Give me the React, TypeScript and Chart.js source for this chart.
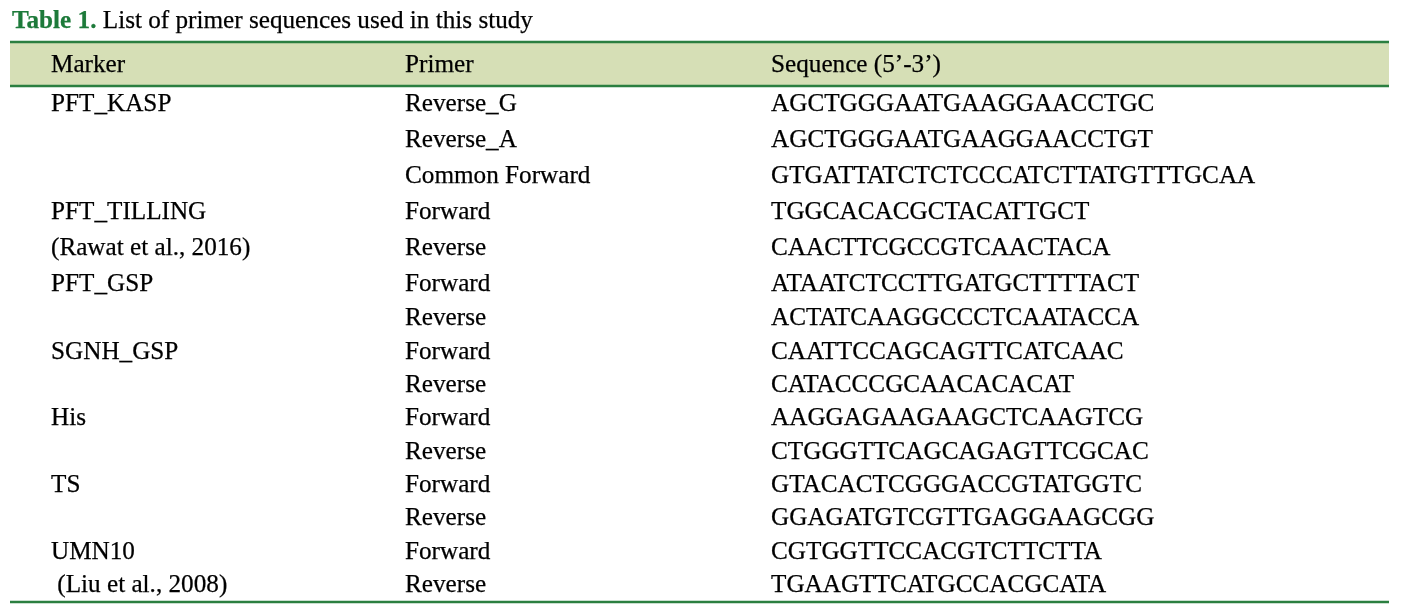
import React, { useEffect, useRef } from "react";
import { Chart, registerables } from "chart.js";

Chart.register(...registerables);

const TITLE_LABEL = "Table 1.";
const TITLE_TEXT = " List of primer sequences used in this study";
const HEADERS = ["Marker", "Primer", "Sequence (5’-3’)"];
const MARKERS = [
  "PFT_KASP", "", "", "PFT_TILLING", "(Rawat et al., 2016)", "PFT_GSP", "",
  "SGNH_GSP", "", "His", "", "TS", "", "UMN10", " (Liu et al., 2008)",
];
const PRIMERS = [
  "Reverse_G", "Reverse_A", "Common Forward", "Forward", "Reverse", "Forward", "Reverse",
  "Forward", "Reverse", "Forward", "Reverse", "Forward", "Reverse", "Forward", "Reverse",
];
const SEQUENCES = [
  "AGCTGGGAATGAAGGAACCTGC",
  "AGCTGGGAATGAAGGAACCTGT",
  "GTGATTATCTCTCCCATCTTATGTTTGCAA",
  "TGGCACACGCTACATTGCT",
  "CAACTTCGCCGTCAACTACA",
  "ATAATCTCCTTGATGCTTTTACT",
  "ACTATCAAGGCCCTCAATACCA",
  "CAATTCCAGCAGTTCATCAAC",
  "CATACCCGCAACACACAT",
  "AAGGAGAAGAAGCTCAAGTCG",
  "CTGGGTTCAGCAGAGTTCGCAC",
  "GTACACTCGGGACCGTATGGTC",
  "GGAGATGTCGTTGAGGAAGCGG",
  "CGTGGTTCCACGTCTTCTTA",
  "TGAAGTTCATGCCACGCATA",
];
const COLUMNS = [MARKERS, PRIMERS, SEQUENCES];
// rows 0-5 sit in taller rows than rows 6-14 in the original
const SPLIT = 6;
const TOP_ROWS = SEQUENCES.slice(0, SPLIT);
const BOT_ROWS = SEQUENCES.slice(SPLIT);

const FONT = '"Liberation Serif", "Times New Roman", serif';
const FONT_PX = 25.2;
const COL_DX = [0, -6, 0];
const GREEN = "#2b7f40";
const TITLE_GREEN = "#1d7a3a";
const HEADER_BG = "#d6dfb6";

function drawText(ctx: CanvasRenderingContext2D, t: string, x: number, y: number) {
  ctx.fillText(t, x, y);
  ctx.strokeText(t, x, y);
}

const tablePlugin = {
  id: "tableText",
  afterDatasetsDraw(chart: any) {
    const ctx = chart.ctx as CanvasRenderingContext2D;
    const area = chart.chartArea;
    const L = 10;
    const R = 1389;
    const top = area.top;
    const bottom = area.bottom;
    ctx.save();
    ctx.fillStyle = HEADER_BG;
    ctx.fillRect(L, top - 44, R - L, 44);
    ctx.strokeStyle = GREEN;
    ctx.lineWidth = 2.5;
    [top - 44, top, bottom].forEach((yy) => {
      ctx.beginPath();
      ctx.moveTo(L, yy);
      ctx.lineTo(R, yy);
      ctx.stroke();
    });
    // title
    ctx.textBaseline = "alphabetic";
    ctx.textAlign = "left";
    ctx.lineWidth = 0.25;
    ctx.font = `bold ${FONT_PX}px ${FONT}`;
    ctx.fillStyle = TITLE_GREEN;
    ctx.strokeStyle = TITLE_GREEN;
    drawText(ctx, TITLE_LABEL, 12, 28);
    const w = ctx.measureText(TITLE_LABEL).width;
    ctx.font = `${FONT_PX}px ${FONT}`;
    ctx.fillStyle = "#000";
    ctx.strokeStyle = "#000";
    drawText(ctx, TITLE_TEXT, 12 + w, 28);
    // header + cells
    ctx.textBaseline = "middle";
    COLUMNS.forEach((col, j) => {
      const metaTop = chart.getDatasetMeta(j * 2);
      const metaBot = chart.getDatasetMeta(j * 2 + 1);
      drawText(ctx, HEADERS[j], metaTop.data[0].x + COL_DX[j], top - 21);
      col.forEach((txt, i) => {
        const el = i < SPLIT ? metaTop.data[i] : metaBot.data[i - SPLIT];
        if (txt) drawText(ctx, txt, el.x + COL_DX[j], el.y);
      });
    });
    ctx.restore();
  },
};

export default function App() {
  const ref = useRef<HTMLCanvasElement | null>(null);
  useEffect(() => {
    document.body.style.margin = "0";
    const canvas = ref.current!;
    const datasets: any[] = [];
    COLUMNS.forEach((col, j) => {
      datasets.push({
        label: HEADERS[j] + " a",
        xAxisID: "x",
        yAxisID: "yTop",
        data: TOP_ROWS.map((k) => ({ x: HEADERS[j], y: k })),
        pointRadius: 0,
      });
      datasets.push({
        label: HEADERS[j] + " b",
        xAxisID: "x",
        yAxisID: "yBot",
        data: BOT_ROWS.map((k) => ({ x: HEADERS[j], y: k })),
        pointRadius: 0,
      });
    });
    const chart = new Chart(canvas, {
      type: "scatter",
      data: { datasets },
      options: {
        animation: false,
        responsive: false,
        events: [],
        layout: { padding: { left: 51, right: 638, top: 86, bottom: 3 } },
        plugins: { legend: { display: false }, tooltip: { enabled: false } },
        scales: {
          x: { type: "category", labels: HEADERS, offset: false, display: false },
          yTop: {
            type: "category", labels: TOP_ROWS, offset: true, display: false,
            position: "right", stack: "rows", stackWeight: 216,
          },
          yBot: {
            type: "category", labels: BOT_ROWS, offset: true, display: false,
            position: "right", stack: "rows", stackWeight: 300,
          },
        },
      },
      plugins: [tablePlugin],
    });
    return () => chart.destroy();
  }, []);
  return (
    <div style={{ width: 1409, height: 605, background: "#fff" }}>
      <canvas ref={ref} width={1409} height={605} />
    </div>
  );
}
